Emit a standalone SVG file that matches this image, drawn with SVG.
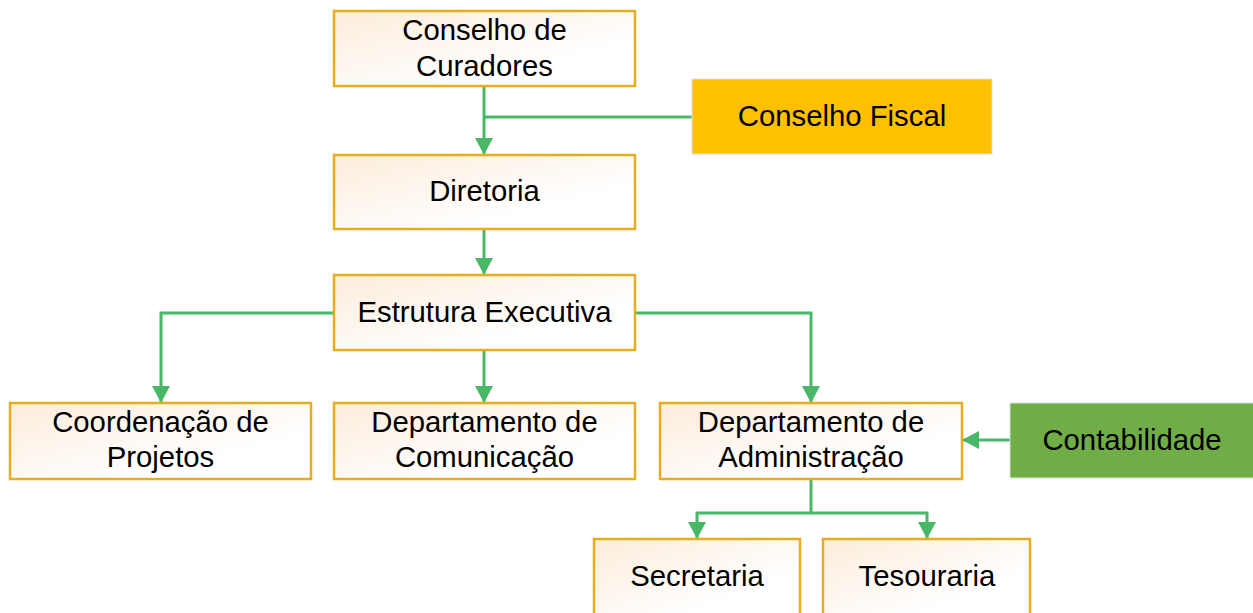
<svg xmlns="http://www.w3.org/2000/svg" width="1253" height="613" viewBox="0 0 1253 613">
<defs>
<linearGradient id="peach" x1="0" y1="0" x2="1" y2="1">
<stop offset="0" stop-color="#fcecdb"/>
<stop offset="0.7" stop-color="#ffffff"/>
</linearGradient>
<marker id="arr" viewBox="0 0 17 18" refX="17" refY="9" markerWidth="17" markerHeight="18" markerUnits="userSpaceOnUse" orient="auto">
<path d="M0,0 L17,9 L0,18 z" fill="#48b868"/>
</marker>
<style>
.box{fill:url(#peach);stroke:#e6ae1e;stroke-width:2.5}
.t{font-family:"Liberation Sans",Arial,sans-serif;font-size:29.3px;fill:#000;text-anchor:middle}
.c{fill:none;stroke:#48b868;stroke-width:3}
</style>
</defs>
<rect width="1253" height="613" fill="#ffffff"/>
<g id="connectors">
<path class="c" d="M484 86 V155" marker-end="url(#arr)"/>
<path class="c" d="M484 117 H692"/>
<path class="c" d="M484 229 V275" marker-end="url(#arr)"/>
<path class="c" d="M334 313 H161 V403" marker-end="url(#arr)"/>
<path class="c" d="M484 350 V403" marker-end="url(#arr)"/>
<path class="c" d="M635 313 H811 V403" marker-end="url(#arr)"/>
<path class="c" d="M811 479 V513 H697 V539" marker-end="url(#arr)"/>
<path class="c" d="M811 513 H927 V539" marker-end="url(#arr)"/>
<path class="c" d="M1010 440 H962" marker-end="url(#arr)"/>
</g>
<g id="curadores">
<rect class="box" x="334" y="11" width="301" height="75"/>
<text class="t" x="484.5" y="40">Conselho de</text>
<text class="t" x="484.5" y="76">Curadores</text>
</g>
<g id="fiscal">
<rect x="692" y="79" width="300" height="75" fill="#ffc000" stroke="#e0e0e0" stroke-width="1"/>
<text class="t" x="842" y="126">Conselho Fiscal</text>
</g>
<g id="diretoria">
<rect class="box" x="334" y="155" width="301" height="74"/>
<text class="t" x="484.5" y="201">Diretoria</text>
</g>
<g id="estrutura">
<rect class="box" x="334" y="275" width="301" height="75"/>
<text class="t" x="484.5" y="322">Estrutura Executiva</text>
</g>
<g id="coordenacao">
<rect class="box" x="10" y="403" width="301" height="76"/>
<text class="t" x="160.5" y="432">Coordenação de</text>
<text class="t" x="160.5" y="467">Projetos</text>
</g>
<g id="comunicacao">
<rect class="box" x="334" y="403" width="301" height="76"/>
<text class="t" x="484.5" y="432">Departamento de</text>
<text class="t" x="484.5" y="467">Comunicação</text>
</g>
<g id="administracao">
<rect class="box" x="660" y="403" width="302" height="76"/>
<text class="t" x="811" y="432">Departamento de</text>
<text class="t" x="811" y="467">Administração</text>
</g>
<g id="contabilidade">
<rect x="1010" y="403" width="245" height="75" fill="#70ad47" stroke="#e0e0e0" stroke-width="1"/>
<text class="t" x="1132" y="450">Contabilidade</text>
</g>
<g id="secretaria">
<rect class="box" x="594" y="539" width="206" height="80"/>
<text class="t" x="697" y="586">Secretaria</text>
</g>
<g id="tesouraria">
<rect class="box" x="823" y="539" width="207" height="80"/>
<text class="t" x="927" y="586">Tesouraria</text>
</g>
</svg>
